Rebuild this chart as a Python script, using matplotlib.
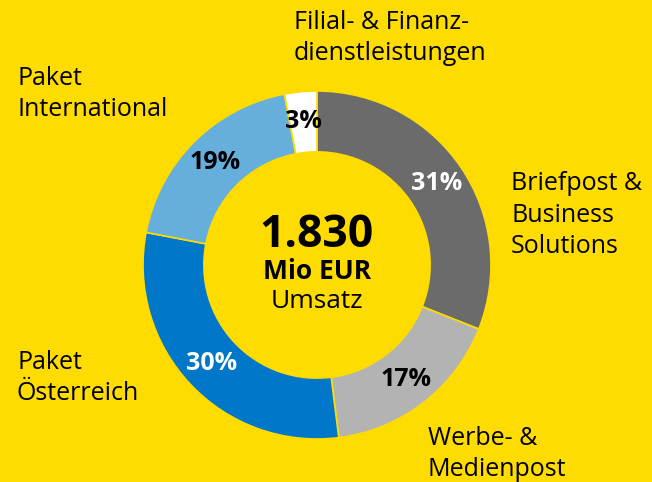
import matplotlib.pyplot as plt

plt.rcParams['font.family'] = ['Open Sans', 'DejaVu Sans']

# Umsatz nach Bereichen (Anteile in %)
segments = ['Briefpost & Business Solutions', 'Werbe- & Medienpost',
            'Paket Österreich', 'Paket International',
            'Filial- & Finanzdienstleistungen']
shares = [31, 17, 30, 19, 3]
colors = ['#6b6b6b', '#b3b3b3', '#0077c8', '#66aedc', '#ffffff']
pct_colors = ['white', 'black', 'white', 'black', 'black']

total = '1.830'
unit = 'Mio EUR'
caption = 'Umsatz'

# outside labels: (text, x px, y px from top)
outer_labels = [
    ('Filial- & Finanz-\ndienstleistungen', 294, 38),
    ('Paket\nInternational', 17, 94),
    ('Briefpost &\nBusiness\nSolutions', 511, 215),
    ('Paket\nÖsterreich', 17, 378),
    ('Werbe- &\nMedienpost', 428, 454),
]

W, H = 652, 482
yellow = '#ffdc00'
fig = plt.figure(figsize=(W / 100, H / 100), dpi=100)
fig.patch.set_facecolor(yellow)

cx, cy, r = 317, 265, 174
ax = fig.add_axes([(cx - r) / W, (H - cy - r) / H, 2 * r / W, 2 * r / H])
ax.set_facecolor(yellow)

wedges, _, autotexts = ax.pie(
    shares, colors=colors, startangle=90, counterclock=False, radius=1,
    autopct=lambda p: f'{p:.0f}%', pctdistance=0.83,
    wedgeprops=dict(width=0.35, edgecolor=yellow, linewidth=1.2))
for t, c in zip(autotexts, pct_colors):
    t.set_color(c)
    t.set_fontsize(18)
    t.set_fontweight('bold')

ax.set_xlim(-1, 1)
ax.set_ylim(-1, 1)
ax.axis('off')

ax.text(0, 0.17, total, ha='center', va='center', fontsize=32, fontweight='bold')
ax.text(0, -0.04, unit, ha='center', va='center', fontsize=19, fontweight='bold')
ax.text(0, -0.21, caption, ha='center', va='center', fontsize=19)

for txt, x, y in outer_labels:
    fig.text(x / W, 1 - y / H, txt, ha='left', va='center', fontsize=18,
             linespacing=1.35)

fig.savefig('out.png', dpi=100, facecolor=yellow)
